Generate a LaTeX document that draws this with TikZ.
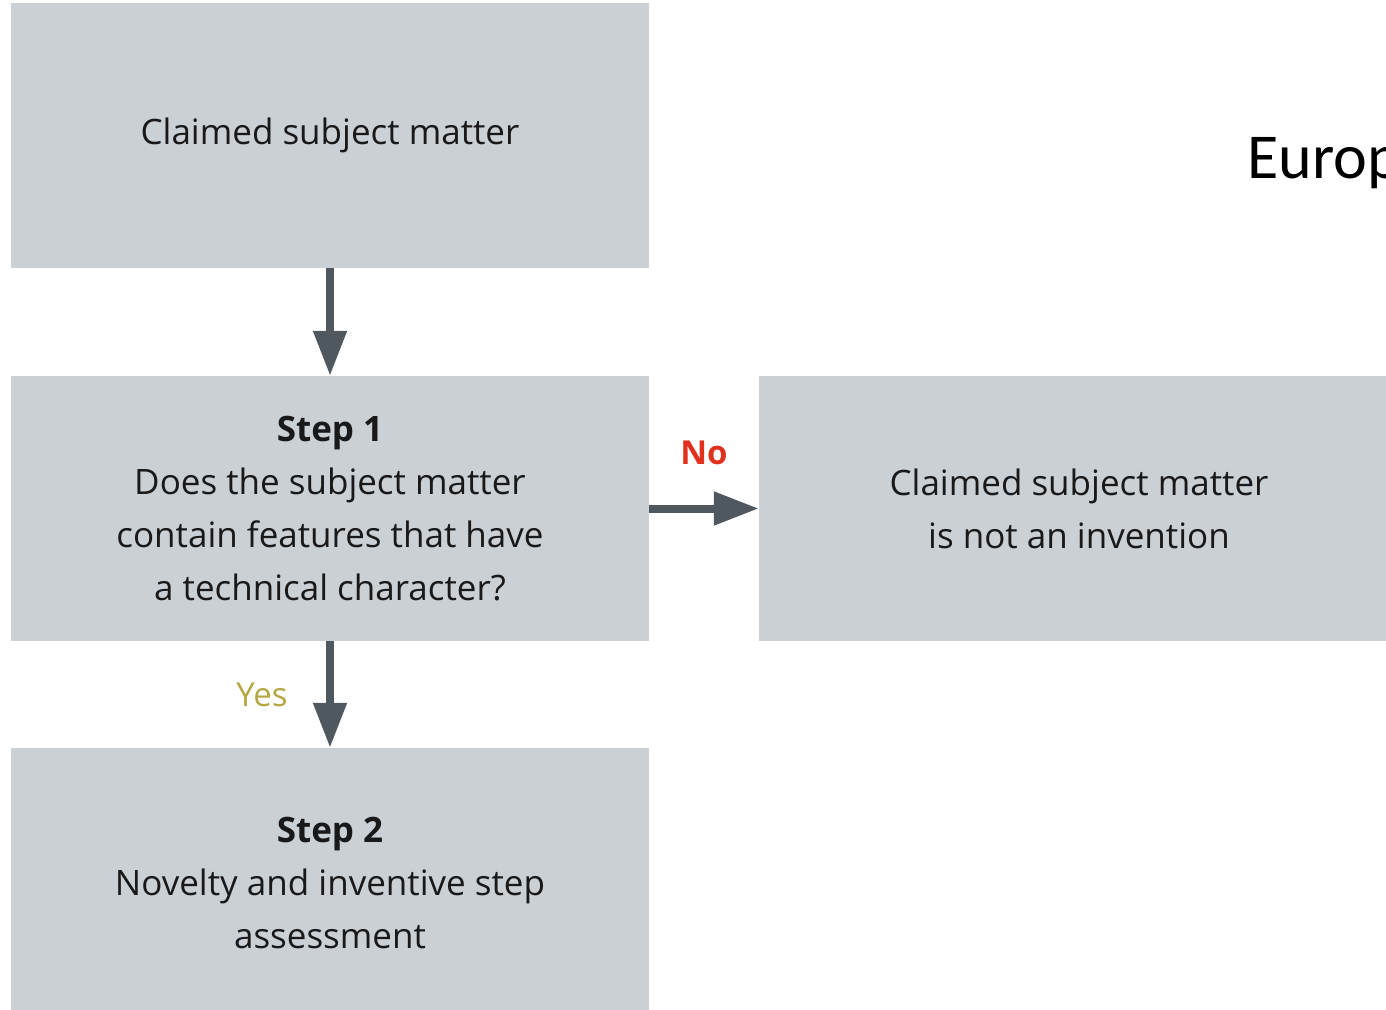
\documentclass[tikz,border=0pt]{standalone}
\usepackage{fontspec}
\setmainfont{Open Sans}
\newfontfamily\calibrifont{Carlito}
\usetikzlibrary{arrows.meta}
\definecolor{boxgrey}{HTML}{CBD0D5}
\definecolor{arrowgrey}{HTML}{4F575F}
\definecolor{noRed}{HTML}{E0301E}
\definecolor{yesGold}{HTML}{B5A642}
\tikzset{
  flowbox/.style={fill=boxgrey, draw=none, inner sep=0pt, minimum width=638pt, minimum height=265pt, align=center, font=\fontsize{35}{53}\selectfont, text=black!90},
  flowarrow/.style={draw=arrowgrey, line width=8pt, -{Triangle[width=32pt,length=45pt]}},
  lbl/.style={font=\fontsize{33}{36}\selectfont}
}
\begin{document}
\begin{tikzpicture}[x=1pt,y=-1pt]
\useasboundingbox (0,0) rectangle (1386,1009);
\node[flowbox] (claim) at (330,135.5) {Claimed subject matter};
\node[flowbox] (step1) at (330,508.5) {\textbf{Step 1}\\Does the subject matter\\contain features that have\\a technical character?};
\node[flowbox, minimum width=640pt] (notinv) at (1079,508.5) {Claimed subject matter\\is not an invention};
\node[flowbox, minimum height=270pt] (step2) at (330,883) {\textbf{Step 2}\\Novelty and inventive step\\assessment};
\node[anchor=base west, inner sep=0pt, font=\calibrifont\fontsize{64}{70}\selectfont] (europ) at (1247,178) {European};
\draw[flowarrow] (claim.south) -- (step1.north);
\draw[flowarrow] (step1.east) -- (notinv.west);
\draw[flowarrow] (step1.south) -- (step2.north);
\node[lbl, text=noRed, font=\fontsize{33}{36}\selectfont\bfseries] (no) at (704,453) {No};
\node[lbl, text=yesGold] (yes) at (262,695) {Yes};
\end{tikzpicture}
\end{document}
